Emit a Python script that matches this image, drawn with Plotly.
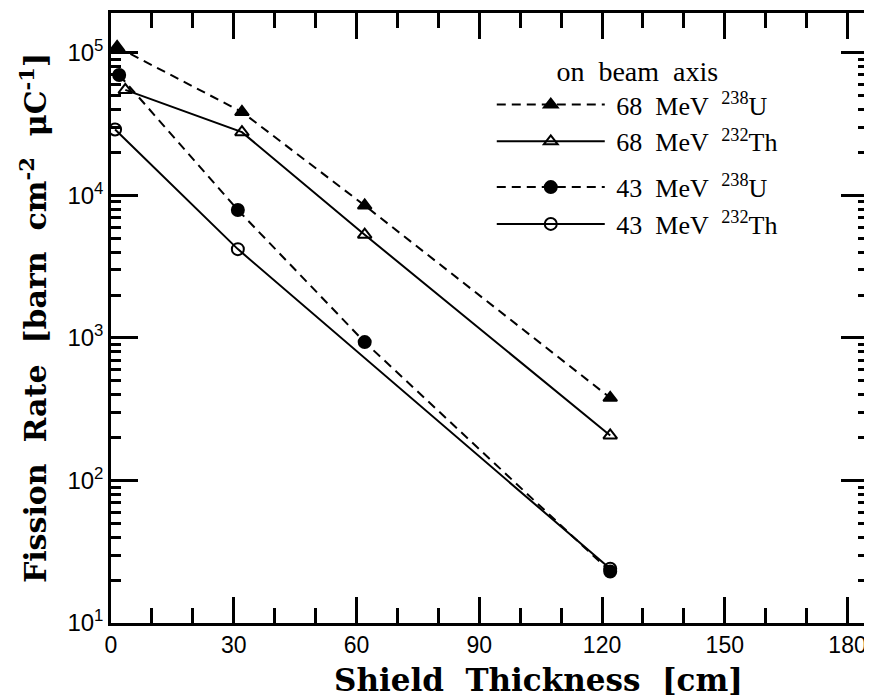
import plotly.graph_objects as go

# ---- data ----
x_68U = [1.5, 32, 62, 122]
y_68U = [1.1e5, 3.85e4, 8.5e3, 380]

x_68Th = [3.5, 32, 62, 122]
y_68Th = [5.5e4, 2.78e4, 5.3e3, 207]

x_43U = [2, 31, 62, 122]
y_43U = [7.0e4, 7.9e3, 935, 23.0]

x_43Th = [1, 31, 122]
y_43Th = [2.9e4, 4.2e3, 24.0]

names = ["\u00a068  MeV  <sup>238</sup>U", "\u00a068  MeV  <sup>232</sup>Th",
         "\u00a043  MeV  <sup>238</sup>U", "\u00a043  MeV  <sup>232</sup>Th"]
groups = ["68", "68", "43", "43"]

x_ticks = [0, 30, 60, 90, 120, 150, 180]
y_ticks = [10, 100, 1000, 10000, 100000]
y_ticktext = ["10<sup>1</sup>", "10<sup>2</sup>", "10<sup>3</sup>", "10<sup>4</sup>", "10<sup>5</sup>"]

x_title = "<b>Shield  Thickness  [cm]</b>"
y_title = "<b>Fission  Rate  [barn  cm<sup>-2</sup>  μC<sup>-1</sup>]</b>"

SERIF = "Liberation Serif, Times New Roman, Times, serif"
WSERIF = "DejaVu Serif, serif"
SANS = "Liberation Sans, Arial, sans-serif"

series = [
    (x_68U, y_68U, "dash", "triangle-up"),
    (x_68Th, y_68Th, "solid", "triangle-up-open"),
    (x_43U, y_43U, "dash", "circle"),
    (x_43Th, y_43Th, "solid", "circle-open"),
]

fig = go.Figure()
for (xs, ys, dash, sym), nm, g in zip(series, names, groups):
    fig.add_trace(go.Scatter(
        x=xs, y=ys, name=nm, legendgroup=g, mode="lines+markers",
        line=dict(color="black", width=2, dash=("9px,6px" if dash == "dash" else "solid")),
        marker=dict(symbol=sym, size=12, color="black",
                    line=dict(color="black", width=2)),
    ))

axis_common = dict(
    showgrid=False, zeroline=False, showline=True, linecolor="black", linewidth=2.5,
    mirror="allticks", ticks="inside", tickcolor="black", tickwidth=2.5,
    automargin=False,
)

# page body has an 8px margin, so the figure is 8px smaller than the window
fig.update_layout(
    width=864, height=691,
    paper_bgcolor="white", plot_bgcolor="white",
    margin=dict(l=103, r=4, t=5, b=76),
    xaxis=dict(
        **axis_common, range=[0, 185], tickvals=x_ticks, ticklen=26,
        minor=dict(dtick=10, ticks="inside", ticklen=15, tickwidth=2.5, tickcolor="black"),
        tickfont=dict(family=SANS, size=23, color="black"),
    ),
    yaxis=dict(
        **axis_common, type="log", range=[1, 5.28], tickvals=y_ticks, ticktext=y_ticktext,
        ticklen=27,
        minor=dict(dtick="D1", ticks="inside", ticklen=10, tickwidth=2.5, tickcolor="black"),
        tickfont=dict(family=SANS, size=24, color="black"),
        title=dict(text=y_title,
                   font=dict(family=WSERIF, size=30, color="black"), standoff=12),
    ),
    legend=dict(
        x=0.503, y=0.948, xanchor="left", yanchor="top",
        bgcolor="rgba(0,0,0,0)", borderwidth=0,
        font=dict(family=SERIF, size=26, color="black"),
        title=dict(text="on  beam  axis", side="top center",
                   font=dict(family=SERIF, size=28, color="black")),
        itemwidth=108, tracegroupgap=9,
    ),
    annotations=[dict(
        text=x_title, xref="paper", yref="paper", x=0.565, y=-0.093,
        xanchor="center", yanchor="middle", showarrow=False,
        font=dict(family=WSERIF, size=31, color="black"),
    )],
)

fig.write_html("out.html")
